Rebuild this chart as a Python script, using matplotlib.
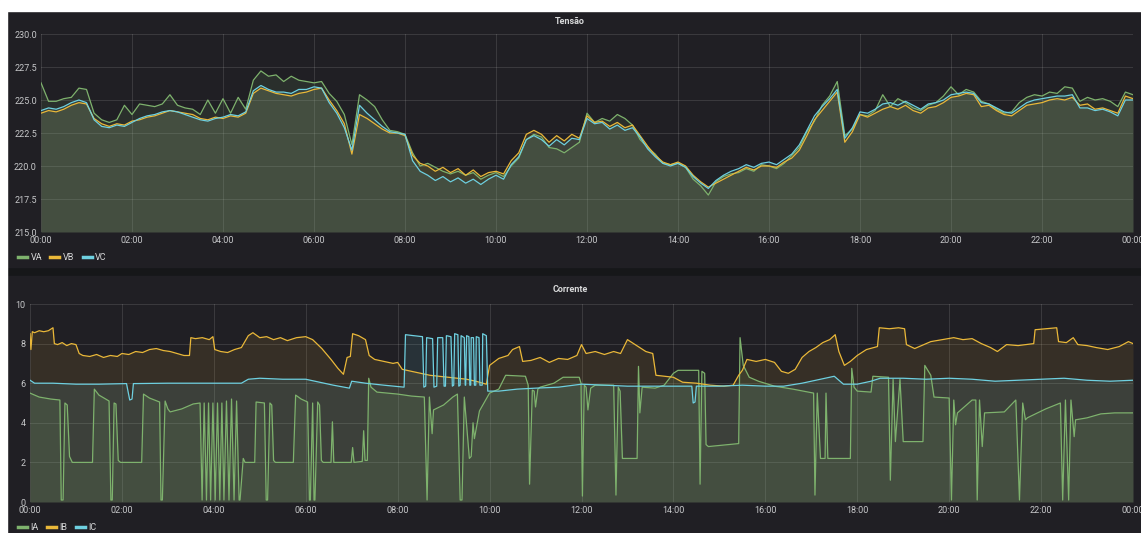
import numpy as np
import matplotlib
matplotlib.use("Agg")
import matplotlib.pyplot as plt
from matplotlib.patches import Rectangle
from matplotlib.lines import Line2D

# ---- Tensão: one sample every 10 min, 00:00 .. 24:00 ----
va = [226.3, 224.9, 224.9, 225.1, 225.2, 225.9, 225.8,
      224.0, 223.5, 223.3, 223.5, 224.6, 223.9,
      224.7, 224.6, 224.5, 224.7, 225.4, 224.6,
      224.4, 224.3, 223.9, 225.0, 224.0, 225.1,
      224.0, 225.2, 224.3, 226.5, 227.2, 226.8,
      226.9, 226.4, 226.8, 226.5, 226.4, 226.3,
      226.4, 225.5, 224.9, 223.9, 221.6, 225.4,
      225.0, 224.5, 223.5, 222.7, 222.6, 222.4,
      221.0, 220.0, 220.2, 219.9, 219.6, 219.4,
      219.6, 219.3, 219.5, 219.0, 219.3, 219.5,
      219.2, 220.0, 220.6, 222.0, 222.4, 222.2,
      221.4, 221.3, 221.0, 221.4, 221.8, 224.0,
      223.3, 223.6, 223.4, 223.9, 223.6, 223.1,
      222.0, 221.4, 220.9, 220.2, 220.1, 220.2,
      219.9, 219.0, 218.5, 217.8, 218.8, 219.2,
      219.4, 219.5, 219.8, 219.6, 220.1, 220.0,
      219.8, 220.2, 220.8, 221.4, 222.6, 223.4,
      224.6, 225.3, 226.4, 222.3, 222.8, 223.9,
      223.8, 224.2, 225.4, 224.5, 225.1, 224.8,
      224.4, 224.2, 224.6, 224.8, 225.3, 226.0,
      225.4, 225.8, 225.6, 224.9, 224.7, 224.3,
      224.0, 224.1, 224.8, 225.2, 225.4, 225.3,
      225.6, 225.5, 226.0, 225.9, 224.9, 225.2,
      225.0, 225.1, 224.9, 224.5, 225.6, 225.4]

vb = [224.0, 224.2, 224.1, 224.3, 224.6, 224.8, 224.7,
      223.6, 223.2, 223.0, 223.2, 223.1, 223.4,
      223.5, 223.7, 223.8, 224.0, 224.2, 224.1,
      224.0, 223.9, 223.6, 223.5, 223.7, 223.6,
      223.8, 223.7, 224.0, 225.5, 225.9, 225.7,
      225.5, 225.4, 225.3, 225.5, 225.6, 225.8,
      225.9, 225.0, 224.2, 223.2, 220.9, 223.9,
      223.6, 223.2, 222.8, 222.5, 222.5, 222.3,
      220.8, 220.2, 220.0, 219.6, 219.9, 219.5,
      219.8, 219.3, 219.7, 219.2, 219.5, 219.6,
      219.4, 220.4, 221.0, 222.4, 222.7, 222.4,
      221.8, 222.3, 221.9, 222.4, 222.1, 223.8,
      223.3, 223.4, 223.0, 223.3, 222.9, 223.1,
      222.3, 221.5, 220.8, 220.3, 220.1, 220.3,
      220.0, 219.3, 218.8, 218.4, 218.7, 219.0,
      219.3, 219.6, 219.9, 219.7, 220.0, 220.0,
      219.9, 220.3, 220.6, 221.2, 222.3, 223.5,
      224.2, 224.9, 225.6, 221.8, 222.6, 223.9,
      223.7, 224.0, 224.3, 224.5, 224.3, 224.6,
      224.2, 224.0, 224.4, 224.5, 224.8, 225.2,
      225.3, 225.5, 225.4, 224.5, 224.6, 224.2,
      223.9, 223.8, 224.2, 224.6, 224.7, 224.8,
      225.0, 225.1, 225.0, 225.2, 224.6, 224.7,
      224.3, 224.4, 224.2, 224.0, 225.3, 225.1]

vc = [224.2, 224.4, 224.3, 224.5, 224.8, 225.0, 224.8,
      223.5, 223.0, 222.9, 223.1, 223.0, 223.3,
      223.6, 223.8, 223.9, 224.1, 224.2, 224.1,
      223.9, 223.7, 223.5, 223.4, 223.6, 223.7,
      223.9, 223.8, 224.1, 225.7, 226.1, 225.8,
      225.6, 225.6, 225.5, 225.8, 225.8, 226.0,
      225.9, 224.8, 224.0, 222.9, 221.2, 224.6,
      224.0, 223.5, 223.0, 222.6, 222.5, 222.4,
      220.4, 219.6, 219.3, 218.9, 219.2, 218.8,
      219.1, 218.7, 219.0, 218.6, 219.0, 219.3,
      219.0, 220.1, 220.7, 222.0, 222.3, 222.0,
      221.5, 222.0, 221.6, 222.1, 222.0, 223.6,
      223.2, 223.3, 222.8, 223.1, 222.7, 222.9,
      222.2, 221.3, 220.7, 220.2, 220.0, 220.2,
      219.9, 219.2, 218.7, 218.3, 218.9, 219.3,
      219.6, 219.8, 220.1, 219.9, 220.2, 220.3,
      220.1, 220.5, 220.9, 221.6, 222.7, 223.8,
      224.5, 225.1, 225.8, 222.1, 222.9, 224.1,
      224.0, 224.3, 224.7, 224.8, 224.6, 224.9,
      224.6, 224.3, 224.7, 224.8, 225.0, 225.4,
      225.5, 225.6, 225.5, 224.8, 224.7, 224.4,
      224.1, 224.0, 224.4, 224.8, 225.0, 225.1,
      225.2, 225.3, 225.3, 225.4, 224.4, 224.4,
      224.2, 224.3, 224.1, 223.8, 225.0, 225.0]

v_hours = np.arange(len(vb)) / 6.0

# ---- Corrente: (hour, amps) points ----
ia_points = [
    (0.00, 5.5), (0.2, 5.3), (0.45, 5.2), (0.65, 5.15), (0.68, 0.1), (0.72, 0.1),
    (0.76, 5.0), (0.81, 4.9), (0.86, 2.3), (0.92, 2.0), (1.36, 2.0), (1.40, 5.7),
    (1.5, 5.4), (1.72, 5.1), (1.76, 0.1), (1.79, 0.1), (1.83, 5.0), (1.87, 4.95),
    (1.92, 2.1), (1.97, 2.0), (2.43, 2.0), (2.47, 5.45), (2.6, 5.25), (2.82, 5.05),
    (2.85, 0.1), (2.88, 0.1), (2.94, 5.1), (3.0, 4.7), (3.05, 4.55), (3.3, 4.7),
    (3.55, 4.95), (3.70, 5.0), (3.745, 0.1), (3.79, 5.0), (3.84, 0.1), (3.885, 5.0),
    (3.93, 0.1), (3.98, 5.0), (4.03, 0.1), (4.08, 5.0), (4.13, 0.1), (4.175, 5.0),
    (4.22, 0.1), (4.275, 5.1), (4.33, 0.1), (4.385, 5.2), (4.44, 0.1), (4.495, 5.1),
    (4.55, 0.1), (4.57, 0.1), (4.64, 2.2), (4.68, 2.0), (4.89, 2.0), (4.92, 5.05),
    (5.10, 5.0), (5.14, 0.1), (5.17, 0.1), (5.22, 5.0), (5.26, 4.9), (5.30, 2.1),
    (5.34, 2.0), (5.73, 2.0), (5.78, 5.4), (5.9, 5.2), (6.04, 5.05), (6.08, 0.1),
    (6.10, 0.1), (6.15, 5.0), (6.18, 0.1), (6.20, 0.1), (6.26, 5.05), (6.30, 4.9),
    (6.34, 2.1), (6.38, 2.0), (6.55, 2.0), (6.58, 4.05), (6.61, 2.0), (6.99, 2.0),
    (7.02, 2.75), (7.05, 2.0), (7.23, 2.05), (7.26, 3.6), (7.29, 2.1), (7.34, 2.1),
    (7.37, 6.25), (7.42, 5.8), (7.55, 5.55), (8.0, 5.45), (8.3, 5.35), (8.58, 5.3),
    (8.64, 0.1), (8.69, 5.3), (8.75, 3.45), (8.78, 4.65), (9.0, 4.9), (9.2, 5.3),
    (9.3, 5.45), (9.36, 0.1), (9.40, 0.1), (9.45, 5.3), (9.53, 3.0), (9.56, 2.2),
    (9.60, 2.3), (9.64, 4.0), (9.67, 3.2), (9.78, 4.6), (10.0, 5.5), (10.2, 5.7),
    (10.35, 6.4), (10.78, 6.35), (10.84, 5.9), (10.87, 0.9), (10.93, 5.65),
    (10.97, 5.6), (11.0, 4.8), (11.05, 5.7), (11.1, 5.8), (11.4, 6.0), (11.6, 6.3),
    (11.95, 6.3), (11.99, 6.0), (12.02, 0.3), (12.06, 5.9), (12.1, 5.8), (12.14, 4.65),
    (12.2, 5.75), (12.3, 5.9), (12.7, 5.9), (12.75, 0.35), (12.8, 5.8), (12.84, 5.6),
    (12.89, 2.2), (13.21, 2.2), (13.24, 6.85), (13.27, 4.5), (13.32, 5.8), (13.6, 5.75),
    (13.8, 5.9), (14.0, 6.5), (14.1, 6.65), (14.55, 6.65), (14.58, 0.9), (14.62, 6.6),
    (14.68, 6.5), (14.71, 2.9), (14.76, 2.8), (15.42, 2.95), (15.45, 8.3), (15.52, 6.9),
    (15.65, 6.3), (15.85, 6.1), (16.2, 5.85), (16.6, 5.7), (17.05, 5.5), (17.08, 0.35),
    (17.13, 5.5), (17.2, 2.2), (17.3, 2.2), (17.32, 5.5), (17.36, 2.2), (17.85, 2.2),
    (17.88, 6.75), (17.93, 5.8), (18.0, 5.6), (18.3, 5.55), (18.34, 6.35), (18.68, 6.3),
    (18.72, 1.1), (18.78, 6.2), (18.83, 3.05), (18.93, 6.2), (19.0, 3.05), (19.43, 3.05),
    (19.47, 6.9), (19.6, 6.4), (19.67, 5.3), (20.0, 5.25), (20.05, 0.1), (20.1, 5.15),
    (20.14, 3.9), (20.18, 4.5), (20.5, 5.15), (20.58, 5.15), (20.61, 0.1), (20.66, 5.15),
    (20.72, 2.8), (20.77, 4.5), (21.2, 4.55), (21.45, 5.15), (21.53, 0.1), (21.6, 5.0),
    (21.66, 4.15), (21.7, 4.25), (22.1, 4.7), (22.42, 5.0), (22.47, 0.1), (22.53, 5.15),
    (22.6, 0.1), (22.65, 5.15), (22.72, 3.3), (22.75, 4.15), (23.0, 4.25), (23.3, 4.45),
    (23.6, 4.5), (24.0, 4.5)]

ib_points = [
    (0.0, 8.5), (0.02, 7.7), (0.05, 8.6), (0.1, 8.55), (0.2, 8.65), (0.3, 8.6),
    (0.4, 8.65), (0.5, 8.8), (0.53, 8.0), (0.6, 7.95), (0.7, 8.05), (0.8, 7.9),
    (0.9, 8.0), (1.0, 7.95), (1.07, 7.5), (1.15, 7.4), (1.3, 7.35), (1.45, 7.45),
    (1.6, 7.3), (1.75, 7.4), (1.9, 7.35), (2.0, 7.5), (2.15, 7.45), (2.3, 7.6),
    (2.45, 7.55), (2.6, 7.7), (2.75, 7.75), (2.9, 7.65), (3.05, 7.6), (3.2, 7.5),
    (3.35, 7.4), (3.47, 7.4), (3.5, 8.3), (3.6, 8.25), (3.75, 8.3), (3.9, 8.2),
    (3.98, 8.35), (4.02, 7.7), (4.15, 7.6), (4.3, 7.55), (4.45, 7.7), (4.6, 7.8),
    (4.75, 8.4), (4.85, 8.55), (5.0, 8.3), (5.15, 8.35), (5.3, 8.2), (5.45, 8.3),
    (5.6, 8.15), (5.8, 8.3), (6.0, 8.35), (6.15, 8.2), (6.35, 7.75), (6.55, 7.2),
    (6.7, 6.75), (6.82, 6.45), (6.9, 7.3), (6.97, 7.35), (7.02, 8.5), (7.15, 8.4),
    (7.3, 8.2), (7.38, 7.4), (7.5, 7.2), (7.7, 7.1), (7.9, 7.0), (8.0, 7.05),
    (8.1, 6.7), (8.3, 6.6), (8.5, 6.5), (8.7, 6.4), (8.9, 6.35), (9.1, 6.3),
    (9.3, 6.25), (9.5, 6.2), (9.7, 6.1), (9.93, 5.95), (10.0, 6.9), (10.2, 7.25),
    (10.4, 7.4), (10.5, 7.7), (10.65, 7.85), (10.72, 7.1), (10.9, 7.15), (11.1, 7.3),
    (11.3, 7.05), (11.5, 7.25), (11.7, 7.2), (11.9, 7.4), (12.0, 7.95), (12.1, 7.5),
    (12.3, 7.6), (12.5, 7.45), (12.7, 7.6), (12.85, 7.5), (13.0, 8.2), (13.2, 7.9),
    (13.4, 7.6), (13.55, 7.5), (13.62, 6.4), (13.8, 6.35), (14.0, 6.3), (14.2, 6.05),
    (14.5, 6.0), (14.8, 5.9), (15.1, 5.85), (15.3, 5.9), (15.42, 6.4), (15.5, 6.65),
    (15.6, 7.2), (15.8, 7.1), (16.0, 7.2), (16.2, 7.05), (16.35, 6.6), (16.5, 6.5),
    (16.65, 6.7), (16.8, 7.3), (16.95, 7.6), (17.1, 7.8), (17.25, 8.05), (17.4, 8.2),
    (17.52, 8.45), (17.6, 7.6), (17.72, 6.9), (17.85, 7.1), (18.0, 7.4), (18.2, 7.7),
    (18.44, 7.85), (18.48, 8.8), (18.7, 8.75), (18.9, 8.8), (19.03, 8.75), (19.07, 7.95),
    (19.25, 7.75), (19.4, 7.9), (19.6, 8.1), (19.85, 8.2), (20.1, 8.3), (20.3, 8.2),
    (20.5, 8.25), (20.7, 8.0), (20.9, 7.8), (21.05, 7.6), (21.25, 7.95), (21.5, 7.9),
    (21.84, 8.0), (21.87, 8.7), (22.1, 8.75), (22.34, 8.8), (22.38, 8.1), (22.55, 8.05),
    (22.7, 8.3), (22.8, 7.95), (23.0, 7.9), (23.2, 7.8), (23.45, 7.7), (23.7, 7.85),
    (23.9, 8.1), (24.0, 8.0)]

ic_points = [
    (0.0, 6.15), (0.1, 6.0), (0.5, 6.0), (1.0, 5.95), (1.5, 5.95), (2.1, 5.98),
    (2.17, 5.15), (2.22, 5.2), (2.25, 5.98), (3.0, 6.0), (4.0, 6.0), (4.6, 6.0),
    (4.75, 6.2), (5.0, 6.25), (5.5, 6.2), (6.0, 6.2), (6.3, 6.05), (6.6, 5.9),
    (6.95, 5.75), (7.0, 6.1), (7.3, 6.0), (7.7, 5.9), (8.14, 5.8), (8.17, 8.45),
    (8.35, 8.4), (8.54, 8.35), (8.57, 5.8), (8.61, 5.85), (8.63, 8.3), (8.76, 8.25),
    (8.79, 5.8), (8.85, 5.85), (8.87, 8.3), (8.98, 8.3), (9.01, 5.85), (9.04, 5.85),
    (9.06, 8.4), (9.16, 8.35), (9.19, 5.85), (9.22, 5.9), (9.24, 8.5), (9.31, 8.45),
    (9.33, 5.85), (9.36, 5.9), (9.38, 8.4), (9.45, 8.3), (9.47, 5.9), (9.48, 5.9),
    (9.5, 8.4), (9.55, 8.35), (9.57, 5.9), (9.59, 5.9), (9.6, 8.3), (9.65, 8.3),
    (9.67, 5.9), (9.70, 5.9), (9.71, 8.35), (9.77, 8.3), (9.79, 5.9), (9.84, 5.9),
    (9.85, 8.5), (9.93, 8.4), (9.96, 5.6), (10.2, 5.6), (10.6, 5.7), (11.0, 5.75),
    (11.5, 5.8), (12.0, 5.95), (12.5, 5.9), (13.0, 5.85), (13.5, 5.85), (14.0, 5.85),
    (14.4, 5.85), (14.43, 5.0), (14.47, 5.05), (14.5, 5.85), (15.0, 5.85), (15.5, 5.9),
    (16.0, 5.85), (16.4, 5.85), (16.8, 6.0), (17.2, 6.2), (17.5, 6.35), (17.7, 5.95),
    (18.0, 5.95), (18.3, 6.1), (18.5, 6.25), (19.0, 6.25), (19.5, 6.2), (20.0, 6.25),
    (20.5, 6.2), (21.0, 6.1), (21.5, 6.15), (22.0, 6.2), (22.5, 6.25), (23.0, 6.15),
    (23.5, 6.1), (24.0, 6.15)]

x_ticks = list(range(0, 25, 2))
x_labels = ["%02d:00" % (h % 24) for h in x_ticks]
v_ticks = [215.0, 217.5, 220.0, 222.5, 225.0, 227.5, 230.0]
i_ticks = [0, 2, 4, 6, 8, 10]

GREEN = "#7EB26D"
ORANGE = "#EAB839"
BLUE = "#6ED0E0"
PANEL = "#201f24"
DASH_BG = "#161719"
TEXT = "#d8d9da"
TICK = "#c7c8ca"
FONT = ["Roboto", "DejaVu Sans"]

plt.rcParams["font.family"] = FONT

W, H = 1141, 533
fig = plt.figure(figsize=(W / 100, H / 100), dpi=100, facecolor=DASH_BG)


def fig_rect(x0, y0, x1, y1, color):
    # rectangle given in pixel coords (y from top)
    fig.patches.append(Rectangle((x0 / W, 1 - y1 / H), (x1 - x0) / W, (y1 - y0) / H,
                                 transform=fig.transFigure, color=color, zorder=-10))


fig_rect(7, 11, W, 267, PANEL)
fig_rect(7, 276, W, H, PANEL)
fig_rect(0, 0, W, 11, "white")
fig_rect(0, 0, 7, H, "white")


def make_ax(left_px, top_px, right_px, bottom_px):
    ax = fig.add_axes([left_px / W, 1 - bottom_px / H, (right_px - left_px) / W,
                       (bottom_px - top_px) / H])
    ax.set_facecolor("none")
    for s in ax.spines.values():
        s.set_visible(False)
    ax.set_axisbelow(True)
    ax.grid(True, color="white", alpha=0.12, linewidth=0.7)
    ax.tick_params(length=0, colors=TICK, labelsize=6.5, pad=3)
    ax.set_xlim(0, 24)
    ax.set_xticks(x_ticks)
    ax.set_xticklabels(x_labels)
    return ax


def draw(ax, t, v, color, base):
    ax.fill_between(t, base, v, color=color, alpha=0.11, linewidth=0)
    ax.plot(t, v, color=color, linewidth=0.9)


# Tensão
ax1 = make_ax(41, 34, 1133, 232)
for series, col in [(va, GREEN), (vb, ORANGE), (vc, BLUE)]:
    draw(ax1, v_hours, series, col, 215)
ax1.set_ylim(215, 230)
ax1.set_yticks(v_ticks)
ax1.set_yticklabels(["%.1f" % v for v in v_ticks])
fig.text(570 / W, 1 - 21 / H, "Tensão", ha="center", va="center", color=TEXT,
         fontsize=6.5, fontweight="bold")

# Corrente
ax2 = make_ax(30, 304, 1133, 502)
for pts, col in [(ia_points, GREEN), (ib_points, ORANGE), (ic_points, BLUE)]:
    t, v = np.array(pts).T
    draw(ax2, t, v, col, 0)
ax2.set_ylim(0, 10)
ax2.set_yticks(i_ticks)
ax2.set_yticklabels([str(v) for v in i_ticks])
fig.text(570 / W, 1 - 290 / H, "Corrente", ha="center", va="center", color=TEXT,
         fontsize=6.5, fontweight="bold")


def legend(names, y_px):
    handles = [Line2D([], [], color=c, linewidth=2.5) for c in (GREEN, ORANGE, BLUE)]
    fig.legend(handles, names, loc="center left", bbox_to_anchor=(18 / W, 1 - y_px / H),
               ncol=3, frameon=False, fontsize=6.5, labelcolor=TEXT, handlelength=1.0,
               handletextpad=0.4, columnspacing=0.9, borderpad=0, borderaxespad=0)


legend(["VA", "VB", "VC"], 258)
legend(["IA", "IB", "IC"], 528)

fig.savefig("out.png", dpi=100, facecolor=fig.get_facecolor())
